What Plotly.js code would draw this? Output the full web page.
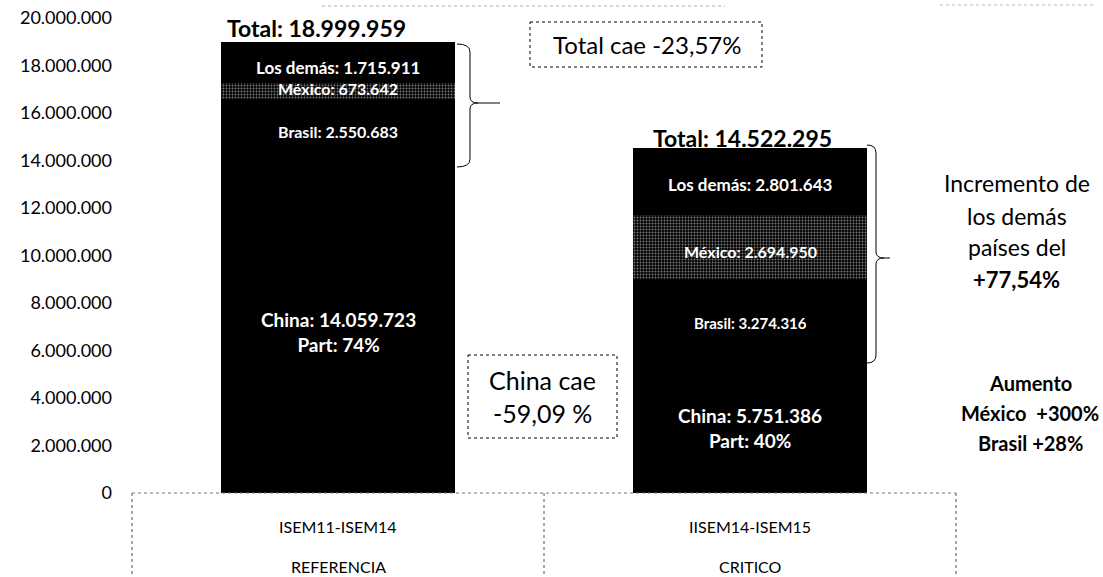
<!DOCTYPE html>
<html>
<head>
<meta charset="utf-8">
<script src="https://cdn.plot.ly/plotly-3.0.1.min.js"></script>
<style>html,body{margin:0;padding:0;background:#fff}#chart{width:1103px;height:577px}</style>
</head>
<body>
<div id="chart"></div>
<script>
// ---- data ----
const periods = ['ISEM11-ISEM14', 'IISEM14-ISEM15'];
const periodLabels = ['REFERENCIA', 'CRITICO'];
const china = [14059723, 5751386];
const brasil = [2550683, 3274316];
const mexico = [673642, 2694950];
const demas = [1715911, 2801643];
const yTicks = [0, 2000000, 4000000, 6000000, 8000000, 10000000, 12000000, 14000000, 16000000, 18000000, 20000000];

// ---- helpers ----
const FONT = 'Lato, "Liberation Sans", sans-serif';
const fmt = v => Math.round(v).toString().replace(/\B(?=(\d{3})+(?!\d))/g, '.');
const L = 132, R = 956, T = 18, B = 493, W = 1103, H = 577;
const px = x => (x - L) / (R - L);
const py = y => (B - y) / (B - T);

const seriesDefs = [
  {name: 'China', y: china, marker: {color: '#000'}},
  {name: 'Brasil', y: brasil, marker: {color: '#000'}},
  {name: 'México', y: mexico, marker: {color: '#000', pattern: {shape: '.', bgcolor: '#050505', fgcolor: '#7a7a7a', size: 3, solidity: 0.3}}},
  {name: 'Los demás', y: demas, marker: {color: '#000'}}
];
const traces = seriesDefs.map(s => ({
  type: 'bar', x: periods, y: s.y, name: s.name, width: [0.568, 0.566],
  marker: Object.assign({line: {width: 0}}, s.marker), hoverinfo: 'x+y+name'
}));

const annotations = [];
const totals = periods.map((p, i) => china[i] + brasil[i] + mexico[i] + demas[i]);
// segment labels
periods.forEach((p, i) => {
  let base = 0;
  const seg = (v, text, size, dy) => {
    annotations.push({x: p, y: base + v / 2, xref: 'x', yref: 'y', xanchor: 'center', yanchor: 'middle',
      text: text, showarrow: false, yshift: dy || 0,
      font: {family: FONT, size: size, color: '#fff', weight: 'bold'}});
    base += v;
  };
  const part = Math.round(china[i] / totals[i] * 100);
  seg(china[i], 'China: ' + fmt(china[i]) + '<br>Part: ' + part + '%', 19, i === 0 ? -6 : -3);
  seg(brasil[i], 'Brasil: ' + fmt(brasil[i]), i === 0 ? 16 : 15, i === 0 ? -3 : -5);
  seg(mexico[i], 'México: ' + fmt(mexico[i]), 16, i === 0 ? 2 : -5);
  seg(demas[i], 'Los demás: ' + fmt(demas[i]), 17, i === 0 ? -5 : -3);
});
// totals
periods.forEach((p, i) => {
  annotations.push({x: p, y: totals[i], xref: 'x', yref: 'y', xanchor: 'center', yanchor: 'bottom', showarrow: false,
    xshift: i === 0 ? -22 : -8, yshift: i === 0 ? -2 : -6,
    text: 'Total: ' + fmt(totals[i]), font: {family: FONT, size: 23, color: '#000', weight: 'bold'}});
});
// category labels (two rows)
periods.forEach((p, i) => {
  annotations.push({x: 0.25 + 0.5 * i, y: py(526), xref: 'paper', yref: 'paper', xanchor: 'center', yanchor: 'middle',
    showarrow: false, text: p, font: {family: FONT, size: 16, color: '#000'}});
  annotations.push({x: 0.25 + 0.5 * i, y: py(566), xref: 'paper', yref: 'paper', xanchor: 'center', yanchor: 'middle',
    showarrow: false, text: periodLabels[i], font: {family: FONT, size: 16, color: '#000'}});
});
// commentary
const note = (x, y, text, size, bold) => annotations.push({x: px(x), y: py(y), xref: 'paper', yref: 'paper',
  xanchor: 'center', yanchor: 'middle', showarrow: false, text: text,
  font: {family: FONT, size: size, color: '#000', weight: bold ? 'bold' : 'normal'}});
note(647, 44, 'Total cae -23,57%', 24, false);
note(542, 380, 'China cae', 25, false);
note(542, 413, '-59,09 %', 25, false);
note(1017, 183, 'Incremento de', 23, false);
note(1017, 216, 'los demás', 23, false);
note(1017, 247, 'países del', 23, false);
note(1017, 279, '+77,54%', 22, true);
note(1030, 383, 'Aumento', 20, true);
note(1030, 413, 'México  +300%', 20, true);
note(1030, 443, 'Brasil +28%', 20, true);

// shapes
const shapes = [];
const line = (x0, y0, x1, y1, dash, color) => shapes.push({type: 'line', xref: 'paper', yref: 'paper',
  x0: px(x0), y0: py(y0), x1: px(x1), y1: py(y1), line: {color: color || '#000', width: 1, dash: dash || 'solid'}});
line(132, 493, 956, 493, 'dot', '#777');
line(132, 493, 132, 577, 'dot', '#555');
line(544, 493, 544, 577, 'dot', '#555');
line(956, 493, 956, 577, 'dot', '#555');
// faint scan remnants at the top edge
line(322, 6, 725, 6, 'dot', '#aaa');
line(940, 5, 1095, 5, 'dot', '#bbb');
const box = (x0, y0, x1, y1) => shapes.push({type: 'rect', xref: 'paper', yref: 'paper',
  x0: px(x0), y0: py(y0), x1: px(x1), y1: py(y1), line: {color: '#000', width: 1, dash: 'dot'}});
box(530, 22, 762, 67);
box(468, 355, 617, 438);
const brace = (xl, xv, yt, yb, ym, xt) => {
  const P = (x, y) => px(x).toFixed(5) + ',' + py(y).toFixed(5);
  const path = 'M' + P(xl, yt) + ' Q' + P(xv, yt) + ' ' + P(xv, yt + 8) + ' L' + P(xv, ym - 6) +
    ' Q' + P(xv, ym) + ' ' + P(xv + 8, ym) + ' L' + P(xt, ym) + ' M' + P(xv + 8, ym) +
    ' Q' + P(xv, ym) + ' ' + P(xv, ym + 6) + ' L' + P(xv, yb - 8) + ' Q' + P(xv, yb) + ' ' + P(xl, yb);
  shapes.push({type: 'path', xref: 'paper', yref: 'paper', path: path, line: {color: '#000', width: 1}});
};
brace(457, 470, 44, 167, 103, 500);
brace(867, 876, 145, 363, 258, 890);

const layout = {
  width: W, height: H,
  margin: {l: L, r: W - R, t: T, b: H - B, pad: 0},
  paper_bgcolor: '#fff', plot_bgcolor: '#fff',
  separators: ',.',
  barmode: 'stack', showlegend: false,
  font: {family: FONT, color: '#000'},
  xaxis: {type: 'category', range: [-0.5, 1.5], showticklabels: false, ticks: '', showgrid: false,
    zeroline: false, showline: false, fixedrange: true},
  yaxis: {range: [0, 20000000], tickvals: yTicks, tickformat: ',d', showgrid: false, zeroline: false,
    showline: false, ticks: '', ticklabelstandoff: 19, tickfont: {family: FONT, size: 18, color: '#000'},
    fixedrange: true},
  annotations: annotations, shapes: shapes
};
Plotly.newPlot('chart', traces, layout, {displayModeBar: false, staticPlot: true});
</script>
</body>
</html>
